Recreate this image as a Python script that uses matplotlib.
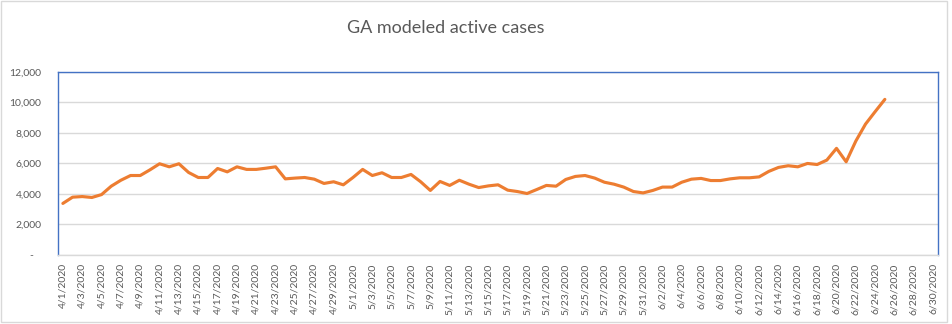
import matplotlib
matplotlib.use("Agg")
import matplotlib.pyplot as plt
from matplotlib.ticker import FuncFormatter, FixedLocator
from matplotlib.patches import Rectangle
import pandas as pd

plt.rcParams['font.family'] = ['Lato', 'DejaVu Sans']

title = "GA modeled active cases"

# Full category range shown on the axis (4/1/2020 .. 6/30/2020)
dates = pd.date_range("2020-04-01", "2020-06-30", freq="D")
date_labels = [f"{d.month}/{d.day}/{d.year}" for d in dates]

# Modeled active cases, 4/1/2020 .. 6/25/2020
active_cases = [
    3380, 3790, 3830, 3770, 3960, 4510, 4900, 5210, 5210, 5580,
    5980, 5780, 5980, 5410, 5080, 5080, 5670, 5450, 5780, 5610,
    5610, 5690, 5780, 4990, 5040, 5080, 4970, 4690, 4800, 4600,
    5080, 5610, 5210, 5390, 5080, 5080, 5280, 4800, 4230, 4820,
    4560, 4900, 4640, 4420, 4530, 4600, 4250, 4160, 4030, 4290,
    4560, 4510, 4950, 5150, 5210, 5040, 4770, 4640, 4450, 4160,
    4070, 4230, 4450, 4450, 4770, 4970, 5020, 4880, 4880, 4990,
    5060, 5060, 5120, 5480, 5740, 5850, 5780, 6000, 5930, 6220,
    6990, 6110, 7470, 8580, 9400, 10200,
]

y_ticks = [0, 2000, 4000, 6000, 8000, 10000, 12000]

text_color = "#595959"
grid_color = "#d9d9d9"
line_color = "#ED7D31"
frame_color = "#4472C4"

fig = plt.figure(figsize=(9.53, 3.24), dpi=100)
fig.patch.set_facecolor("white")
fig.patches.append(Rectangle((0.001, 0.006), 0.993, 0.99, transform=fig.transFigure,
                             fill=False, edgecolor="#d9d9d9", linewidth=1.0))

ax = fig.add_axes([0.0609, 0.213, 0.9234, 0.565])

x = list(range(len(active_cases)))
ax.plot(x, active_cases, color=line_color, linewidth=2.25, solid_joinstyle="round",
        solid_capstyle="round", zorder=3)

ax.set_xlim(-0.5, len(dates) - 0.5)
ax.set_ylim(y_ticks[0], y_ticks[-1])
ax.yaxis.set_major_locator(FixedLocator(y_ticks))
ax.yaxis.set_major_formatter(FuncFormatter(lambda v, p: "-   " if v == 0 else f"{int(v):,}"))
ax.grid(axis="y", color=grid_color, linewidth=1.0, zorder=0)

tick_pos = list(range(0, len(dates), 2))
ax.set_xticks(tick_pos)
ax.set_xticklabels([date_labels[i] for i in tick_pos], rotation=90, va="top", ha="center")

ax.tick_params(axis="both", length=0, colors=text_color, labelsize=7.5)
ax.tick_params(axis="x", pad=6)
ax.tick_params(axis="y", pad=12)

for side in ("left", "top", "right"):
    ax.spines[side].set_color(frame_color)
    ax.spines[side].set_linewidth(1.0)
ax.spines["bottom"].set_color(grid_color)
ax.spines["bottom"].set_linewidth(1.0)

fig.text(0.468, 0.915, title, ha="center", va="center", fontsize=13, color=text_color)

fig.savefig("out.png", dpi=100, facecolor="white")
